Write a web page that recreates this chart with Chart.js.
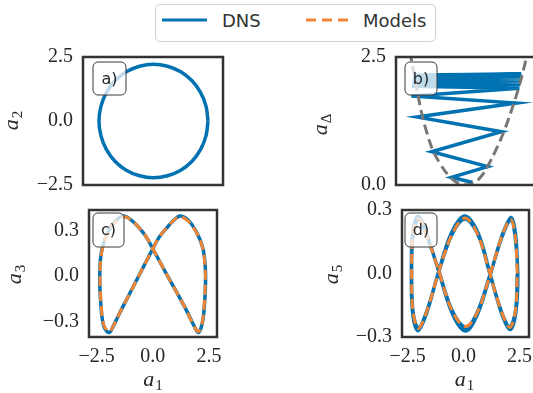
<!DOCTYPE html>
<html>
<head>
<meta charset="utf-8">
<script src="https://cdn.jsdelivr.net/npm/chart.js@4.4.0/dist/chart.umd.min.js"></script>
<style>
  html, body { margin: 0; padding: 0; background: #fff; overflow: hidden; width: 533px; height: 393px; position: relative; }
  canvas { position: absolute; }
  .lg { position: absolute; font-family: "DejaVu Sans"; font-size: 18px; line-height: 20px; color: #333; white-space: nowrap; }
</style>
</head>
<body>
<div style="position:absolute;left:155px;top:4px;width:281px;height:38px;border:1px solid #d0d0d0;border-radius:5px;box-sizing:border-box;"></div>
<svg style="position:absolute;left:160px;top:10px" width="52" height="20"><line x1="2" y1="10" x2="47" y2="10" stroke="#0072b2" stroke-width="3"/></svg>
<span class="lg" style="left:222px;top:11px">DNS</span>
<svg style="position:absolute;left:304px;top:10px" width="48" height="20"><line x1="2" y1="10" x2="44" y2="10" stroke="#f28533" stroke-width="3" stroke-dasharray="10 6"/></svg>
<span class="lg" style="left:363px;top:11px">Models</span>

<canvas id="pa" width="240" height="160" style="left:0;top:40px"></canvas>
<canvas id="pb" width="250" height="160" style="left:290px;top:40px"></canvas>
<canvas id="pc" width="240" height="198" style="left:0;top:195px"></canvas>
<canvas id="pd" width="250" height="198" style="left:290px;top:195px"></canvas>

<script>
const blue = '#0072b2', orange = '#f28533', grey = '#777777';

// tick values
const ticksA1 = [-2.5, 0, 2.5];
const ticksA2 = [-2.5, 0, 2.5];
const ticksDelta = [0, 2.5];
const ticksA3 = [-0.3, 0, 0.3];
const ticksA5 = [-0.3, 0, 0.3];

// a) DNS limit cycle a1 vs a2
const circA1 = [2.26, 2.18, 1.96, 1.61, 1.15, 0.61, 0.04, -0.53, -1.07, -1.53, -1.88, -2.10, -2.18, -2.10, -1.88, -1.53, -1.07, -0.53, 0.04, 0.61, 1.15, 1.61, 1.96, 2.18, 2.26];
const circA2 = [0.0, 0.57, 1.11, 1.57, 1.92, 2.14, 2.22, 2.14, 1.92, 1.57, 1.11, 0.57, 0.0, -0.57, -1.11, -1.57, -1.92, -2.14, -2.22, -2.14, -1.92, -1.57, -1.11, -0.57, 0.0];

// b) DNS transient a1 vs aDelta, and the grey dashed bound
const spirA1 = [0.31, -0.55, 0.93, -1.37, 1.49, -1.97, 2.10, -2.20, 2.23, -2.18, 2.27, -2.16, 2.3, -2.15, 2.31, -2.14, 2.32, -2.13, 2.33, -2.13, 2.33, -2.12, 2.32, -2.12, 2.31, -2.12, 2.3];
const spirDelta = [0.05, 0.15, 0.36, 0.65, 1.04, 1.33, 1.60, 1.74, 1.89, 1.93, 1.96, 1.98, 2.01, 2.02, 2.04, 2.05, 2.07, 2.08, 2.1, 2.1, 2.12, 2.12, 2.14, 2.14, 2.16, 2.15, 2.17];
const parA1 = [-2.4, -2.2, -2.0, -1.8, -1.55, -1.3, -1.0, -0.7, -0.4, -0.1, 0.1, 0.4, 0.7, 1.0, 1.3, 1.6, 1.9, 2.2, 2.5, 2.7];
const parDelta = [2.9, 2.45, 1.95, 1.45, 1.0, 0.66, 0.4, 0.2, 0.07, 0.01, 0.0, 0.05, 0.19, 0.43, 0.72, 1.05, 1.45, 1.9, 2.45, 2.85];

// c) a1 vs a3
const cDnsA1 = [0.0, 0.3, 0.64, 0.95, 1.23, 1.6, 1.98, 2.2, 2.3, 2.35, 2.34, 2.3, 2.24, 2.15, 2.03, 1.85, 1.5, 1.1, 0.7, 0.35, 0.0, -0.3, -0.62, -0.97, -1.3, -1.65, -2.03, -2.22, -2.32, -2.36, -2.35, -2.31, -2.25, -2.15, -1.93, -1.78, -1.5, -1.1, -0.7, -0.35, 0.0];
const cDnsA3 = [0.18, 0.26, 0.32, 0.37, 0.395, 0.365, 0.28, 0.2, 0.125, 0.02, -0.09, -0.19, -0.28, -0.34, -0.37, -0.33, -0.225, -0.115, -0.01, 0.085, 0.18, 0.26, 0.32, 0.37, 0.395, 0.365, 0.28, 0.2, 0.125, 0.02, -0.09, -0.19, -0.28, -0.34, -0.37, -0.335, -0.25, -0.135, -0.02, 0.08, 0.18];
const cModA1 = [0.0, 0.3, 0.64, 0.95, 1.22, 1.59, 1.97, 2.19, 2.29, 2.34, 2.33, 2.29, 2.23, 2.14, 2.02, 1.84, 1.5, 1.1, 0.7, 0.35, 0.0, -0.3, -0.62, -0.96, -1.29, -1.64, -2.02, -2.21, -2.31, -2.35, -2.34, -2.3, -2.24, -2.14, -1.93, -1.78, -1.5, -1.1, -0.7, -0.35, 0.0];
const cModA3 = [0.18, 0.26, 0.32, 0.37, 0.39, 0.36, 0.28, 0.2, 0.125, 0.02, -0.09, -0.19, -0.28, -0.34, -0.365, -0.33, -0.225, -0.115, -0.01, 0.085, 0.18, 0.26, 0.32, 0.37, 0.39, 0.36, 0.28, 0.2, 0.125, 0.02, -0.09, -0.19, -0.28, -0.335, -0.365, -0.335, -0.25, -0.135, -0.02, 0.08, 0.18];

// d) a1 vs a5 (DNS shows two slightly different cycles)
const dDnsA1 = [2.42, 2.32, 2.12, 1.72, 1.18, 0.63, 0.1, -0.5, -1.14, -1.66, -2.03, -2.27, -2.33, -2.27, -2.03, -1.66, -1.14, -0.55, 0.05, 0.65, 1.18, 1.7, 2.07, 2.33, 2.42,
                2.3, 2.11, 1.71, 1.17, 0.62, 0.12, -0.49, -1.13, -1.65, -2.02, -2.26, -2.32, -2.26, -2.02, -1.65, -1.13, -0.54, 0.06, 0.66, 1.17, 1.69, 2.06, 2.32, 2.4];
const dDnsA5 = [0.0, 0.185, 0.265, 0.18, -0.01, -0.19, -0.272, -0.19, 0.02, 0.19, 0.27, 0.19, 0.0, -0.19, -0.27, -0.19, 0.0, 0.19, 0.272, 0.19, 0.0, -0.19, -0.265, -0.185, 0.0,
                0.175, 0.252, 0.172, -0.01, -0.18, -0.255, -0.18, 0.02, 0.18, 0.258, 0.18, 0.0, -0.18, -0.258, -0.18, 0.0, 0.18, 0.258, 0.18, 0.0, -0.18, -0.252, -0.175, 0.0];
const dModA1 = [2.4, 2.3, 2.1, 1.71, 1.17, 0.63, 0.1, -0.5, -1.13, -1.65, -2.02, -2.26, -2.32, -2.26, -2.02, -1.65, -1.13, -0.54, 0.06, 0.65, 1.17, 1.69, 2.06, 2.31, 2.4];
const dModA5 = [0.0, 0.18, 0.255, 0.175, -0.01, -0.18, -0.25, -0.18, 0.02, 0.18, 0.26, 0.18, 0.0, -0.18, -0.26, -0.18, 0.0, 0.18, 0.262, 0.18, 0.0, -0.18, -0.255, -0.18, 0.0];

function pts(xs, ys) { return xs.map((x, i) => ({ x: x, y: ys[i] })); }
function fmt(v) { return (v < 0 ? '\u2212' : '') + Math.abs(v).toFixed(1); }

function line(data, color, width, dash, tension, order) {
  return { data: data, showLine: true, borderColor: color, borderWidth: width, borderDash: dash || [],
           pointRadius: 0, tension: tension, fill: false, order: order };
}

function axis(min, max, ticks, size, isX) {
  return {
    type: 'linear', min: min, max: max,
    display: !!ticks,
    grid: { display: false, drawTicks: false },
    border: { display: false },
    ticks: { font: { family: 'Liberation Serif', size: 20 }, color: '#262626', padding: isX ? 8 : 10,
             autoSkip: false, maxRotation: 0, callback: v => fmt(v) },
    afterBuildTicks: s => { if (ticks) s.ticks = ticks.map(v => ({ value: v })); },
    afterFit: s => {
      if (size) { if (isX) s.height = size; else s.width = size; }
      // keep the plot box where the layout padding puts it
      s.paddingTop = 0; s.paddingBottom = 0; s.paddingLeft = 0; s.paddingRight = 0;
    }
  };
}

function drawMath(ctx, t) {
  ctx.save();
  ctx.translate(t.x, t.y);
  if (t.rot) ctx.rotate(-Math.PI / 2);
  ctx.fillStyle = '#262626';
  ctx.textBaseline = 'alphabetic';
  ctx.textAlign = 'left';
  ctx.font = 'italic 22px "Liberation Serif"';
  const w1 = ctx.measureText('a').width;
  ctx.font = '15px "Liberation Serif"';
  const w2 = ctx.measureText(t.sub).width;
  const x0 = -(w1 + w2) / 2;
  ctx.font = 'italic 22px "Liberation Serif"';
  ctx.fillText('a', x0, 5);
  ctx.font = '15px "Liberation Serif"';
  ctx.fillText(t.sub, x0 + w1 + 1, 9);
  ctx.restore();
}

const deco = {
  id: 'deco',
  afterDatasetsDraw(chart, args, o) {
    const ctx = chart.ctx, a = chart.chartArea;
    ctx.save();
    const bx = a.left + o.box[0], by = a.top + o.box[1];
    ctx.beginPath();
    ctx.roundRect(bx, by, o.box[2], o.box[3], 5);
    ctx.fillStyle = 'rgba(255,255,255,0.75)';
    ctx.fill();
    ctx.lineWidth = 1;
    ctx.strokeStyle = '#3a3a3a';
    ctx.stroke();
    ctx.fillStyle = '#262626';
    ctx.font = '16px "DejaVu Sans"';
    ctx.textAlign = 'center';
    ctx.textBaseline = 'middle';
    ctx.fillText(o.label, bx + o.box[2] / 2, by + o.box[3] / 2 + 1);
    // axes frame
    ctx.lineWidth = 2.5;
    ctx.strokeStyle = '#333';
    ctx.strokeRect(a.left, a.top, a.right - a.left, a.bottom - a.top);
    ctx.restore();
  },
  afterDraw(chart, args, o) {
    o.titles.forEach(t => drawMath(chart.ctx, t));
  }
};

Chart.register(deco);

function makeChart(id, datasets, xs, ys, pad, decoOpts) {
  new Chart(document.getElementById(id), {
    type: 'scatter',
    data: { datasets: datasets },
    options: {
      responsive: false, animation: false, devicePixelRatio: 1,
      layout: { padding: pad },
      plugins: { legend: { display: false }, tooltip: { enabled: false }, deco: decoOpts },
      scales: { x: xs, y: ys }
    }
  });
}

makeChart('pa',
  [line(pts(circA1, circA2), blue, 3.5, null, 0.4, 1)],
  axis(-2.83, 2.87, null, 0, true),
  axis(-2.5, 2.5, ticksA2, 83, false),
  { top: 17, right: 17, bottom: 15, left: 0 },
  { label: 'a)', box: [10, 5, 33, 33], titles: [{ sub: '2', x: 13, y: 81, rot: true }] });

makeChart('pb',
  [line(pts(spirA1, spirDelta), blue, 3.5, null, 0, 1),
   line(pts(parA1, parDelta), grey, 3, [10, 5], 0.4, 0)],
  axis(-2.83, 2.87, null, 0, true),
  axis(0, 2.5, ticksDelta, 106, false),
  { top: 17, right: 5, bottom: 15, left: 0 },
  { label: 'b)', box: [9, 5, 32, 33], titles: [{ sub: '\u0394', x: 32, y: 85, rot: true }] });

makeChart('pc',
  [line(pts(cDnsA1, cDnsA3), blue, 3.5, null, 0.35, 1),
   line(pts(cModA1, cModA3), orange, 3, [10, 5], 0.35, 0)],
  axis(-2.84, 2.86, ticksA1, 56, true),
  axis(-0.40, 0.435, ticksA3, 89, false),
  { top: 15, right: 23, bottom: 0, left: 0 },
  { label: 'c)', box: [4, 3, 31, 34], titles: [{ sub: '3', x: 16, y: 80, rot: true }, { sub: '1', x: 152.5, y: 186 }] });

makeChart('pd',
  [line(pts(dDnsA1, dDnsA5), blue, 3.5, null, 0.35, 1),
   line(pts(dModA1, dModA5), orange, 3, [10, 5], 0.35, 0)],
  axis(-2.75, 2.92, ticksA1, 56, true),
  axis(-0.3, 0.3, ticksA5, 112, false),
  { top: 15, right: 11, bottom: 0, left: 0 },
  { label: 'd)', box: [3, 3, 32, 34], titles: [{ sub: '5', x: 43, y: 80, rot: true }, { sub: '1', x: 174, y: 186 }] });
</script>
</body>
</html>
